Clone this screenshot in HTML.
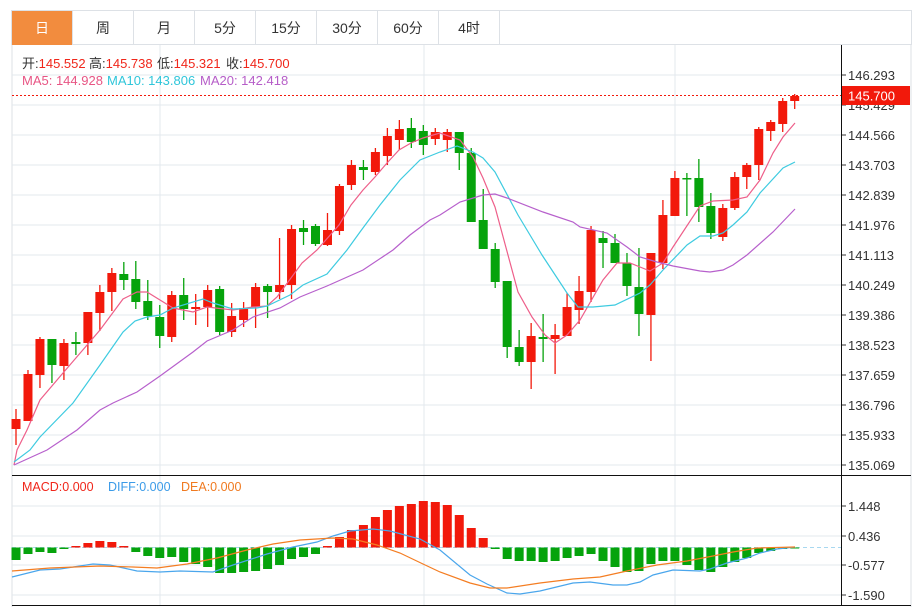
<!DOCTYPE html>
<html><head><meta charset="utf-8"><style>
html,body{margin:0;padding:0;background:#fff;width:917px;height:607px;overflow:hidden;font-family:"Liberation Sans","Noto Sans CJK SC",sans-serif}
.tabs{position:absolute;left:11px;top:10px;height:35px;display:flex;border:1px solid #dde1e6;box-sizing:border-box;width:901px}
.tab{width:61px;height:34px;line-height:34px;text-align:center;font-size:14px;color:#333;border-right:1px solid #dde1e6;box-sizing:border-box}
.tab.on{background:#f28c3e;color:#fff}
svg{position:absolute;left:0;top:0}
</style></head><body>
<div class="tabs"><div class="tab on">日</div><div class="tab">周</div><div class="tab">月</div><div class="tab">5分</div><div class="tab">15分</div><div class="tab">30分</div><div class="tab">60分</div><div class="tab">4时</div></div>
<svg id="s" width="917" height="607" xmlns="http://www.w3.org/2000/svg" font-family="Liberation Sans, Noto Sans CJK SC, sans-serif">
<g id="grid"></g>
<g id="main"></g>
<text y="68" font-size="13" fill="#333"><tspan x="22">开:</tspan><tspan fill="#f0261a">145.552</tspan><tspan x="89">高:</tspan><tspan fill="#f0261a">145.738</tspan><tspan x="157">低:</tspan><tspan fill="#f0261a">145.321</tspan><tspan x="226">收:</tspan><tspan fill="#f0261a">145.700</tspan></text>
<text y="85" font-size="13"><tspan x="22" fill="#e85584">MA5: 144.928</tspan><tspan x="107" fill="#2fc6da">MA10: 143.806</tspan><tspan x="200" fill="#b65dc8">MA20: 142.418</tspan></text>
<text y="491" font-size="12.5"><tspan x="22" fill="#f0261a">MACD:0.000</tspan><tspan x="108" fill="#3b9be8">DIFF:0.000</tspan><tspan x="181" fill="#f07a20">DEA:0.000</tspan></text>
</svg>
<script>
var s=document.getElementById('main'),g=document.getElementById('grid'),NS='http://www.w3.org/2000/svg';
function el(p,t,a){var e=document.createElementNS(NS,t);for(var k in a)e.setAttribute(k,a[k]);p.appendChild(e);return e;}
el(g,'line',{x1:12,y1:45,x2:12,y2:607,stroke:'#dde1e6'});
el(g,'line',{x1:911,y1:45,x2:911,y2:607,stroke:'#dde1e6'});
var pl=['146.293','145.429','144.566','143.703','142.839','141.976','141.113','140.249','139.386','138.523','137.659','136.796','135.933','135.069'];
for(var i=0;i<14;i++){var y=75+i*30;el(g,'line',{x1:12,y1:y,x2:841,y2:y,stroke:'#e3e8ee'});el(g,'line',{x1:841,y1:y,x2:846,y2:y,stroke:'#333'});var t=el(g,'text',{x:848,y:y+5,'font-size':13,fill:'#333'});t.textContent=pl[i];}
[[506,'1.448'],[536,'0.436'],[565,'-0.577'],[595,'-1.590']].forEach(function(a){el(g,'line',{x1:12,y1:a[0],x2:841,y2:a[0],stroke:'#e3e8ee'});el(g,'line',{x1:841,y1:a[0],x2:846,y2:a[0],stroke:'#333'});var t=el(g,'text',{x:848,y:a[0]+5,'font-size':13,fill:'#333'});t.textContent=a[1];});
[160,424,675].forEach(function(x){el(g,'line',{x1:x,y1:45,x2:x,y2:606,stroke:'#e3e8ee'});});
el(g,'line',{x1:12,y1:475.5,x2:911,y2:475.5,stroke:'#111'});
el(g,'line',{x1:12,y1:605.5,x2:911,y2:605.5,stroke:'#111'});
el(g,'line',{x1:841.5,y1:45,x2:841.5,y2:606,stroke:'#111'});
el(g,'line',{x1:12,y1:547.5,x2:841,y2:547.5,stroke:'#a8d8f0','stroke-dasharray':'4,3'});
var R='#f2190b',G='#06a30c';
var c=[[419,429,409,445,1],[374,421,370,421,1],[339,375,337,388,1],[339,365,339,383,0],[343,366,339,380,1],[342,344,332,355,0],[312,343,312,355,1],[292,313,285,331,1],[273,292,268,311,1],[274,280,262,290,0],[279,302,261,309,0],[301,316,280,320,0],[317,336,305,348,0],[295,337,291,342,1],[295,309,278,320,0],[307,309,294,325,1],[290,307,285,327,1],[289,332,286,335,0],[316,332,303,337,1],[308,320,302,327,1],[287,307,283,328,1],[286,292,284,318,0],[285,292,238,299,1],[229,285,225,299,1],[228,232,220,245,0],[226,244,224,246,0],[230,245,213,246,1],[186,231,184,235,1],[165,185,160,190,1],[167,170,160,180,0],[152,172,148,175,1],[136,156,128,165,1],[129,140,120,150,1],[128,142,118,148,0],[131,145,125,155,0],[132,139,128,145,1],[132,140,129,152,1],[132,153,132,170,0],[153,222,148,222,0],[220,249,189,249,0],[249,282,243,288,0],[281,347,281,358,0],[347,362,330,366,0],[336,362,323,389,1],[337,339,314,362,0],[335,339,324,374,1],[307,336,293,336,1],[291,310,276,324,1],[230,292,226,302,1],[238,243,231,268,0],[243,263,234,263,0],[263,286,253,296,0],[287,314,248,336,0],[253,315,253,361,1],[215,263,200,269,1],[178,216,171,216,1],[178,179,173,216,0],[178,207,159,222,0],[206,233,193,239,0],[208,237,204,241,1],[177,208,172,210,1],[165,177,163,189,1],[129,165,127,180,1],[122,131,120,141,1],[101,124,98,132,1],[96,101,94,109,1]];
var hist=[560,554,552,553,549,546,543,541,542,546,552,556,558,557,562,564,567,573,573,572,571,569,565,559,557,554,546,537,530,525,517,510,506,504,501,502,505,515,528,538,549,559,561,561,562,561,558,556,554,561,567,572,571,564,561,561,565,570,572,567,562,558,553,551,549,548];
for(var i=0;i<c.length;i++){var x=16+i*11.98,d=c[i],col=d[4]?R:G;
el(s,'line',{x1:x,y1:d[2],x2:x,y2:d[3],stroke:col,'stroke-width':1.3});
el(s,'rect',{x:x-4.5,y:d[0],width:9,height:Math.max(1.5,d[1]-d[0]),fill:col});
var h=hist[i],z=547.5;el(s,'rect',{x:x-4.5,y:Math.min(h,z),width:9,height:Math.max(1,Math.abs(h-z)),fill:h<z?R:G});}
function line(pts,col){el(s,'polyline',{points:pts,fill:'none',stroke:col,'stroke-width':1.2});}
line('14,465 17,450 27,430 40,400 63,373 100,330 123,299 137,292 147,292 160,300 173,308 193,312 207,307 233,310 253,307 267,306 277,297 302,263 317,250 339,225 351,205 363,190 375,177 387,163 399,150 411,143 423,138 440,133 460,140 473,157 483,178 495,207 518,292 532,317 545,335 555,343 567,335 580,320 603,280 617,263 630,263 650,271 663,263 673,247 700,206 713,201 733,200 747,197 760,180 773,153 783,137 795,123','#ee5f8a');
line('14,462 30,450 40,437 73,403 100,365 123,332 135,321 147,317 160,315 173,308 203,299 213,303 233,309 257,308 267,306 290,295 303,285 327,274 347,250 360,232 380,205 400,180 420,160 440,152 457,146 473,152 483,158 495,172 518,215 542,255 567,293 578,307 593,307 615,305 640,293 650,285 663,270 687,245 700,236 713,236 723,233 733,225 747,212 760,193 783,168 795,162','#3ecbe0');
line('14,465 47,450 77,430 100,410 113,403 137,392 160,376 193,352 207,341 233,330 253,317 280,308 300,297 327,286 363,270 393,250 410,235 430,220 440,215 460,202 483,195 495,194 507,198 543,212 573,222 580,227 607,233 627,247 640,257 657,262 673,266 700,271 710,272 723,270 733,265 747,255 773,232 795,209','#b760cc');
line('12,577 40,570 60,569 93,564 110,565 137,571 160,572 180,571 213,572 233,565 267,554 293,547 317,542 333,536 350,531 373,529 390,531 420,539 440,550 470,575 487,584 507,593 520,594 540,591 573,583 590,582 613,585 627,585 640,582 653,575 673,570 700,571 710,569 727,563 747,558 760,553 777,549 795,547','#4aa6ec');
line('12,571 50,568 100,566 133,567 157,568 187,564 217,558 247,550 273,544 300,540 333,538 353,539 377,545 400,553 423,564 440,572 470,583 490,588 507,588 540,583 573,579 600,577 627,571 657,565 687,561 713,556 733,552 757,548 795,547','#f47d22');
el(s,'line',{x1:12,y1:95.5,x2:841,y2:95.5,stroke:'#f2190b','stroke-dasharray':'2,2'});
el(s,'rect',{x:842,y:86,width:68,height:19,fill:'#f2190b'});
var t=el(s,'text',{x:848,y:100.5,'font-size':13,fill:'#fff'});t.textContent='145.700';
</script>
</body></html>
